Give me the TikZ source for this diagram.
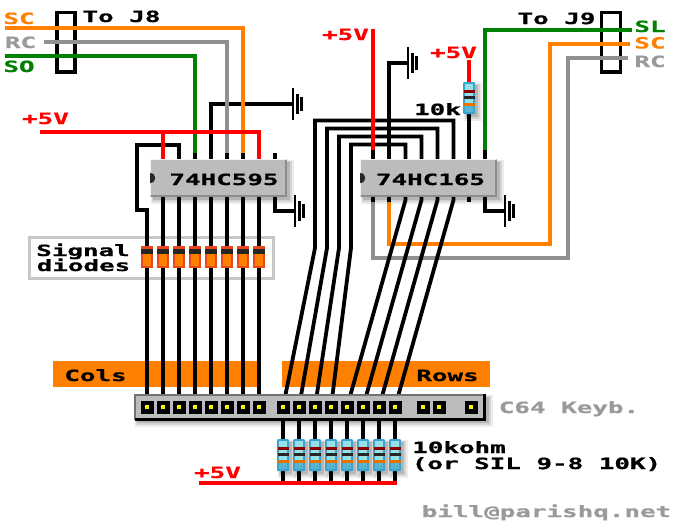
\documentclass[tikz,border=0pt]{standalone}
\usepackage{fontspec}
\usepackage{graphicx}
\newfontfamily\pxfont{DejaVu Sans Mono}[BoldFeatures={FakeBold=0.6}]
\newcommand{\px}[1]{\scalebox{1.67}[1]{\pxfont\bfseries #1}}
\definecolor{wOrange}{HTML}{FF8000}
\definecolor{wGray}{HTML}{909090}
\definecolor{wGreen}{HTML}{008000}
\definecolor{wRed}{HTML}{FF0000}
\definecolor{chip}{HTML}{BCBCBC}
\definecolor{lblGray}{HTML}{9A9A9A}
\definecolor{resOut}{HTML}{3AA4CC}
\definecolor{resIn}{HTML}{96E0E8}
\definecolor{resLow}{HTML}{58B4D4}
\definecolor{dioEdge}{HTML}{E8481C}
\tikzset{
  lbl/.style={inner sep=0pt,anchor=base,font=\fontsize{15.5}{15.5}\selectfont},
  blk/.style={line width=3.8pt,draw=black,line cap=butt},
  gry/.style={line width=3.4pt,draw=wGray},
  org/.style={line width=3.4pt,draw=wOrange},
  grn/.style={line width=3.4pt,draw=wGreen},
  rdw/.style={line width=3.4pt,draw=wRed},
  gndline/.style={line width=2.4pt,draw=black},
  chipbody/.style={fill=chip,draw=none,inner sep=0pt},
}
\newcommand{\softshadow}[4]{%
  \fill[black,opacity=.07] (#1+1,#2+1) rectangle (#3+7,#4+7);
  \fill[black,opacity=.10] (#1+2,#2+2) rectangle (#3+5,#4+5);
  \fill[black,opacity=.14] (#1+3,#2+3) rectangle (#3+3,#4+3);
}
% resistor centred at (x,y): width 12, height 32
\newcommand{\resbody}[2]{%
  \softshadow{#1-6}{#2-16}{#1+6}{#2+16}
  \fill[rounded corners=1pt,fill=resOut] (#1-6,#2-16) rectangle (#1+6,#2+16);
  \fill[fill=resIn] (#1-4,#2-14) rectangle (#1+4,#2+6);
  \fill[fill=resLow] (#1-4,#2+6) rectangle (#1+4,#2+14);
  \fill[fill=red!55!black] (#1-5.5,#2-8.5) rectangle (#1+5.5,#2-5.5);
  \fill[fill=black!85] (#1-5.5,#2-2.5) rectangle (#1+5.5,#2+0.5);
  \fill[fill=orange!90!black] (#1-5.5,#2+4.5) rectangle (#1+5.5,#2+7.5);
}
\newcommand{\diodebody}[1]{%
  \fill[fill=dioEdge] (#1-6,246) rectangle (#1+6,268);
  \fill[fill=wOrange] (#1-4,253) rectangle (#1+4,266);
  \fill[fill=black!85] (#1-6,249) rectangle (#1+6,254);
}
\newcommand{\gndsym}[2]{%
  \draw[gndline] (#1,#2-16) -- (#1,#2+16);
  \draw[gndline] (#1+4.5,#2-10) -- (#1+4.5,#2+10);
  \draw[gndline] (#1+8.5,#2-7) -- (#1+8.5,#2+7);
}
\newcommand{\padsym}[1]{%
  \fill[black] (#1-6.5,400.5) rectangle (#1+6.5,413.5);
  \fill[yellow] (#1-2,405) rectangle (#1+2,409);
}
\begin{document}
\begin{tikzpicture}[x=1pt,y=-1pt]
\useasboundingbox (0,0) rectangle (674,520);
\fill[white] (0,0) rectangle (674,520);

% bars and boxes under the wiring
\fill[wOrange] (53,361) rectangle (258,387);
\fill[wOrange] (282,361) rectangle (490,387);
\draw[line width=3pt,draw=black!22] (29,237) rectangle (273,278);

% pins
\foreach \n/\x in {1/147,2/163,3/179,4/195,5/211,6/227,7/243,8/259}{
  \coordinate (pa\n) at (\x,407);
  \coordinate (ua\n) at (\x,197);
  \coordinate (ta\n) at (\x,159);
}
\coordinate (ta9) at (275,159);
\coordinate (ua9) at (275,197);
\foreach \n/\x in {1/283,2/299,3/315,4/331,5/347,6/363,7/379,8/395}{
  \coordinate (pb\n) at (\x,407);
  \coordinate (rb\n) at (\x,483);
}
\foreach \n/\x in {1/373,2/389,3/405.5,4/421.5,5/437.5,6/453.5,7/469,8/485}{
  \coordinate (tb\n) at (\x,159);
  \coordinate (ub\n) at (\x,197);
}

% black wiring
\draw[blk] (ta3) -- ++(0,-14) -| (137,210) -| (pa1);
\foreach \n in {2,...,8}{ \draw[blk] (ua\n) -- (pa\n); }
\coordinate (g1) at (293,104);
\coordinate (g2) at (295,211);
\coordinate (g3) at (408,63);
\coordinate (g4) at (505,211);
\draw[blk] (ta5) |- (g1);
\draw[blk] (ua9) |- (g2);
\draw[blk] (tb2) |- (g3);
\draw[blk] (ub8) |- (g4);
\gndsym{293}{104}
\gndsym{295}{211}
\gndsym{408}{63}
\gndsym{505}{211}
\draw[blk] (ta9) -- ++(0,-6);
\draw[blk] (tb6) |- (315,120.5) -- (315,248) coordinate (k1) -- (pb1);
\draw[blk] (tb5) |- (327,128.5) -- (327,248) coordinate (k2) -- (pb2);
\draw[blk] (tb4) |- (339,136.5) -- (339,248) coordinate (k3) -- (pb3);
\draw[blk] (tb3) |- (351,144.5) -- (351,248) coordinate (k4) -- (pb4);
\draw[blk] (tb7) -- (469,100);
\foreach \n in {1,...,8}{ \draw[blk] (pb\n) -- (rb\n); }

% connectors J8, J9
\draw[line width=3.6pt] (57,12.5) rectangle (75,72);
\draw[line width=3.6pt] (601.5,12.5) rectangle (620.5,72);

% coloured wiring
\coordinate (j8a) at (5,28);
\coordinate (j8b) at (44,42);
\coordinate (j8c) at (5,56);
\draw[gry] (j8b) -| (227,153);
\draw[org] (j8a) -| (243,153);
\draw[grn] (j8c) -| (195,153);
\coordinate (j9a) at (632,30);
\coordinate (j9b) at (630,44);
\coordinate (j9c) at (628,58);
\draw[gry] (j9c) -| (568,258) -| (ub1);
\draw[org] (j9b) -| (550,244) -| (ub2);
\draw[grn] (j9a) -| (485,150);
\foreach \c in {ta4,ta6,ta7}{ \draw[blk] (\c) -- ++(0,-6); }
\foreach \c in {tb8,tb1}{ \draw[blk] (\c) -- ++(0,-9); }
\foreach \c in {ub1,ub2,ub7}{ \draw[blk] (\c) -- ++(0,5); }
\draw[rdw] (40,132) -| (ta8);
\draw[rdw] (163,132) -- (ta2);
\draw[rdw] (373,29) -- (373,150);
\draw[rdw] (469,60) -- (469,84);

% row wires towards the 74HC165 pins
\foreach \n/\m in {3/5,4/6,5/7,6/8}{
  \draw[blk] (ub\n) -- ++(0,3) -- (pb\m);
}

% diodes
\foreach \x in {147,163,179,195,211,227,243,259}{ \diodebody{\x} }

% resistors
\resbody{469}{98}
\foreach \x in {283,299,315,331,347,363,379,395}{ \resbody{\x}{455} }
\foreach \n in {1,...,8}{ \draw[blk] (rb\n) -- ++(0,-11); }
\draw[rdw] (199,483) -- (397,483);

% chips
\softshadow{150}{159}{287}{197}
\node[chipbody,minimum width=137pt,minimum height=38pt] (ic595) at (218.5,178) {};
\draw[white!85!chip,line width=1pt] (150.5,196) |- (286,159.5);
\draw[black!45,line width=1.5pt] (150.5,196.2) -| (286.2,160);
\softshadow{360}{159}{497}{197}
\node[chipbody,minimum width=137pt,minimum height=38pt] (ic165) at (428.5,178) {};
\draw[white!85!chip,line width=1pt] (360.5,196) |- (496,159.5);
\draw[black!45,line width=1.5pt] (360.5,196.2) -| (496.2,160);
\fill[black!85] (150,173) .. controls (157,173) and (157,183) .. (150,183) -- cycle;
\fill[black!85] (360,173) .. controls (367,173) and (367,183) .. (360,183) -- cycle;

% keyboard connector
\softshadow{134}{394}{486}{420}
\fill[chip] (134,394) rectangle (486,420);
\draw[line width=2pt,draw=black!55] (135,420) -- (135,394.5) -- (486,394.5);
\draw[line width=3pt,draw=black] (135,419) -- (484.5,419) -- (484.5,394);
\foreach \x in {147,163,179,195,211,227,243,259,283,299,315,331,347,363,379,395,423,439,471}{ \padsym{\x} }

% labels
\node[lbl,text=wOrange] (lSC) at (19,24) {\px{SC}};
\node[lbl,text=lblGray] (lRC) at (20.5,48) {\px{RC}};
\node[lbl,text=wGreen] (lSO) at (19,72) {\px{SO}};
\node[lbl] (lJ8) at (121.5,22) {\px{To J8}};
\node[lbl,text=wRed] (p5a) at (45.5,124) {\px{+5V}};
\node[lbl,text=wRed] (p5b) at (345.5,40) {\px{+5V}};
\node[lbl,text=wRed] (p5c) at (453.5,58) {\px{+5V}};
\node[lbl,text=wRed] (p5d) at (217.5,478) {\px{+5V}};
\node[lbl] (l10k) at (437.5,115) {\px{10k}};
\node[lbl] (lJ9) at (556.5,24) {\px{To J9}};
\node[lbl,text=wGreen] (rSL) at (650,32) {\px{SL}};
\node[lbl,text=wOrange] (rSC) at (650,48.5) {\px{SC}};
\node[lbl,text=lblGray] (rRC) at (650,67) {\px{RC}};
\node[lbl] (t595) at (224,185) {\px{74HC595}};
\node[lbl] (t165) at (430.5,185) {\px{74HC165}};
\node[lbl] (lsig) at (83,256) {\px{Signal}};
\node[lbl] (ldio) at (83.5,271) {\px{diodes}};
\node[lbl] (lcol) at (95.5,381) {\px{Cols}};
\node[lbl] (lrow) at (447.5,381) {\px{Rows}};
\node[lbl,text=lblGray] (lkey) at (569,413) {\px{C64 Keyb.}};
\node[lbl] (l10a) at (459,453) {\px{10kohm}};
\node[lbl] (l10b) at (536.5,469) {\px{(or SIL 9-8 10K)}};
\node[lbl,text=lblGray] (lmail) at (546.5,517) {\px{bill@parishq.net}};
\end{tikzpicture}
\end{document}
